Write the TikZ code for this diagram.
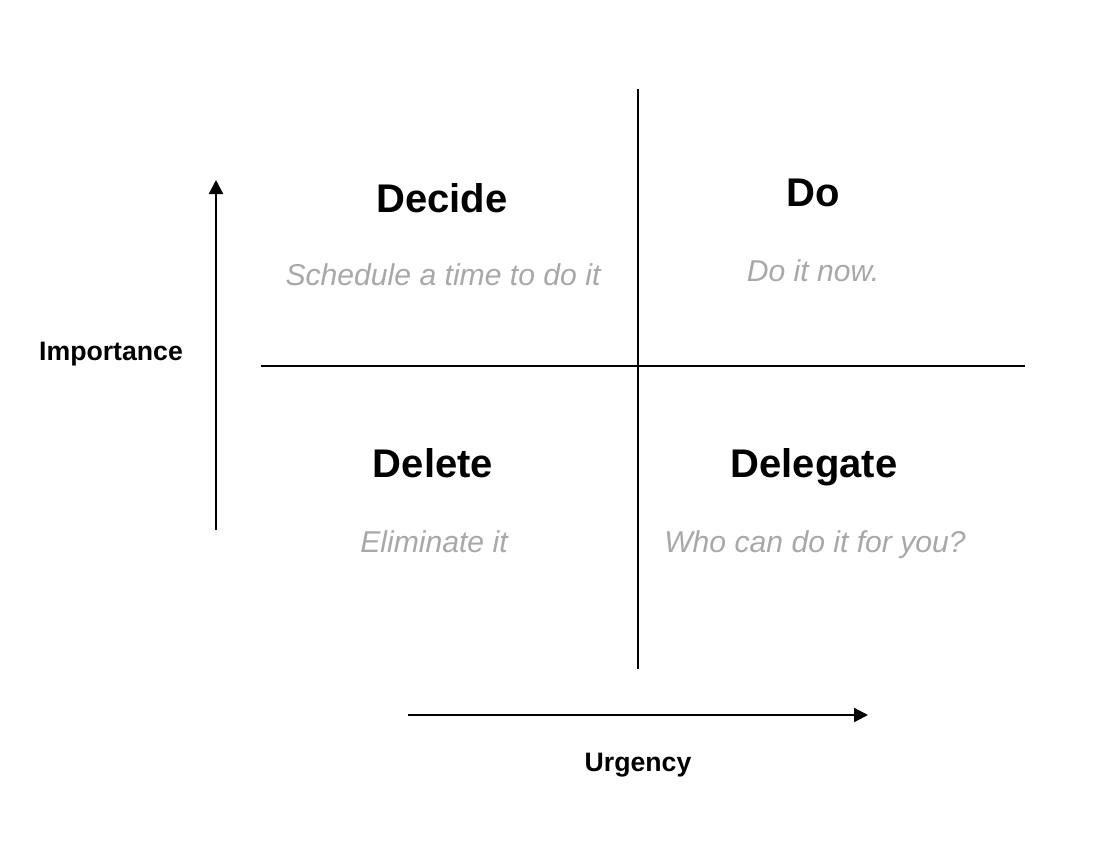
\documentclass[tikz,border=0pt]{standalone}
\usepackage{fontspec}
\setmainfont{Liberation Sans}
\usetikzlibrary{arrows.meta,positioning}
\definecolor{hintgray}{RGB}{168,168,168}

\begin{document}
\begin{tikzpicture}[
    x=0.75pt, y=-0.75pt,
    divider/.style={draw=black, line width=1.6pt},
    axis/.style={draw=black, line width=1.6pt, -{Triangle[length=10.5pt, width=10.5pt]}},
    quadtitle/.style={anchor=base, font=\fontsize{30}{36}\selectfont\bfseries},
    hint/.style={anchor=base, text=hintgray, font=\fontsize{22.6}{27}\selectfont\itshape},
    axislabel/.style={anchor=base, font=\fontsize{20}{24}\selectfont\bfseries}
]
\useasboundingbox (0,0) rectangle (1105,849);

% Dividers
\coordinate (vtop) at (638,89);
\coordinate (vbot) at (638,669);
\coordinate (hleft) at (261,366);
\coordinate (hright) at (1025,366);
\draw[divider] (vtop) -- (vbot);
\draw[divider] (hleft) -- (hright);

% Axes
\coordinate (impstart) at (216,530);
\coordinate (impend) at (216,180);
\coordinate (urgstart) at (408,715);
\coordinate (urgend) at (868,715);
\draw[axis] (impstart) -- (impend);
\draw[axis] (urgstart) -- (urgend);

% Quadrants
\node[quadtitle] (decide) at (442,212) {Decide};
\node[hint] (decidehint) at (443,285) {Schedule a time to do it};
\node[quadtitle] (do) at (813,206) {Do};
\node[hint] (dohint) at (813,281) {Do it now.};
\node[quadtitle] (delete) at (433,477) {Delete};
\node[hint] (deletehint) at (434,552) {Eliminate it};
\node[quadtitle] (delegate) at (814,477) {Delegate};
\node[hint] (delegatehint) at (815,552) {Who can do it for you?};

% Axis labels
\node[axislabel] (importance) at (111,360) {Importance};
\node[axislabel] (urgency) at (638,771) {Urgency};

\end{tikzpicture}
\end{document}
